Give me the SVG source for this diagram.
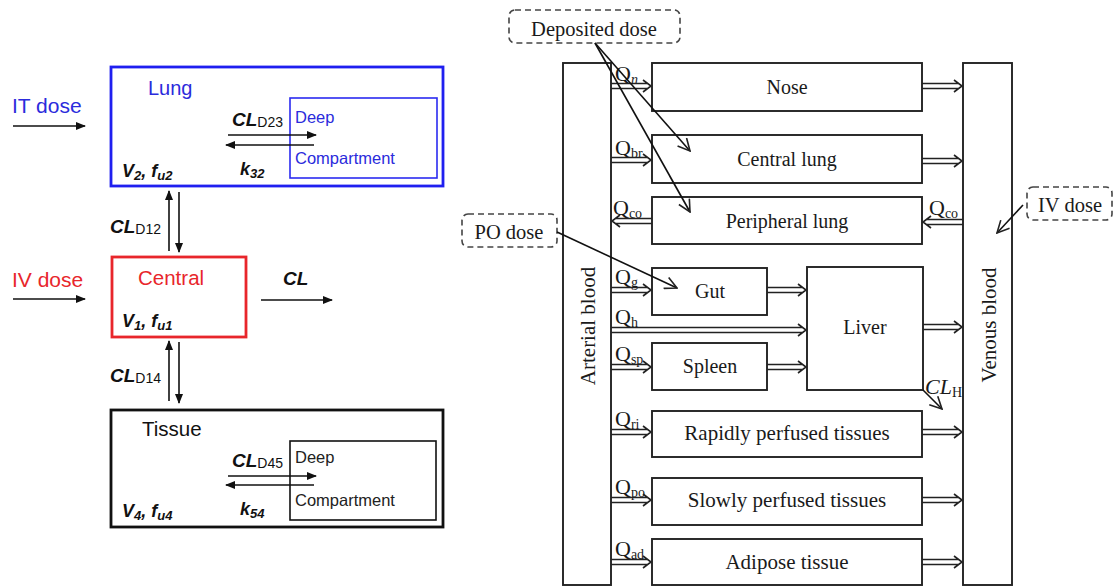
<svg xmlns="http://www.w3.org/2000/svg" width="1114" height="587" viewBox="0 0 1114 587">
<defs>
<style>
.sans{font-family:"Liberation Sans",Arial,sans-serif;}
.serif{font-family:"Liberation Serif","Times New Roman",serif;fill:#1a1a1a;}
.bi{font-weight:bold;font-style:italic;}
.blue{fill:#2b2bdc;}
.red{fill:#e8262b;}
.box{fill:#fff;stroke:#222;stroke-width:1.9;}
.dash{fill:#fff;stroke:#444;stroke-width:1.6;stroke-dasharray:6,4;}
.thin{stroke:#111;stroke-width:1.6;fill:none;}
.dbl{stroke:#222;stroke-width:1.6;fill:none;}
.lbl{font-size:20px;}
.q{font-size:22px;}
.qs{font-size:14px;}
</style>
<marker id="ah" viewBox="0 0 10 8" refX="9" refY="4" markerWidth="10" markerHeight="8" markerUnits="userSpaceOnUse" orient="auto">
<path d="M0,0 L10,4 L0,8 z" fill="#111"/>
</marker>
<marker id="open" viewBox="0 0 14 14" refX="13" refY="7" markerWidth="14" markerHeight="14" markerUnits="userSpaceOnUse" orient="auto">
<path d="M1,1 L13,7 L1,13" fill="none" stroke="#222" stroke-width="1.6"/>
</marker>
</defs>
<rect width="1114" height="587" fill="#fff"/>

<!-- LEFT: compartment model -->
<g id="it-dose">
<text class="sans blue" x="12" y="113" font-size="21">IT dose</text>
</g>
<g id="iv-dose-left">
<text class="sans red" x="12" y="287" font-size="21">IV dose</text>
</g>
<g id="lung">
<rect x="111" y="67" width="332" height="119" fill="none" stroke="#1f1ff0" stroke-width="2.8"/>
<text class="sans blue" x="148" y="95" font-size="20">Lung</text>
<text class="sans" x="122" y="177" fill="#111"><tspan class="bi" font-size="18">V</tspan><tspan class="bi" font-size="13" dy="3">2</tspan><tspan class="bi" font-size="18" dy="-3">, f</tspan><tspan class="bi" font-size="13" dy="3">u2</tspan></text>
<text class="sans" x="232" y="126" fill="#111"><tspan class="bi" font-size="19">CL</tspan><tspan font-size="14" dy="1">D23</tspan></text>
<text class="sans" x="240" y="175" fill="#111"><tspan class="bi" font-size="18">k</tspan><tspan class="bi" font-size="13" dy="3">32</tspan></text>
</g>
<g id="lung-deep">
<rect x="290" y="98" width="147" height="80" fill="none" stroke="#2b2bf0" stroke-width="1.6"/>
<text class="sans blue" x="295" y="123" font-size="16.5">Deep</text>
<text class="sans blue" x="295" y="164" font-size="16.5">Compartment</text>
</g>
<g id="central">
<rect x="112" y="257" width="134" height="80" fill="none" stroke="#e8262b" stroke-width="2.8"/>
<text class="sans red" x="138" y="285" font-size="20.5">Central</text>
<text class="sans" x="122" y="327" fill="#111"><tspan class="bi" font-size="18">V</tspan><tspan class="bi" font-size="13" dy="3">1</tspan><tspan class="bi" font-size="18" dy="-3">, f</tspan><tspan class="bi" font-size="13" dy="3">u1</tspan></text>
</g>
<g id="cl-label">
<text class="sans bi" x="283" y="285" font-size="19" fill="#111">CL</text>
</g>
<g id="tissue">
<rect x="111" y="410" width="332" height="117" fill="none" stroke="#111" stroke-width="2.8"/>
<text class="sans" x="142" y="436" font-size="20.5" fill="#111">Tissue</text>
<text class="sans" x="122" y="517" fill="#111"><tspan class="bi" font-size="18">V</tspan><tspan class="bi" font-size="13" dy="3">4</tspan><tspan class="bi" font-size="18" dy="-3">, f</tspan><tspan class="bi" font-size="13" dy="3">u4</tspan></text>
<text class="sans" x="232" y="467" fill="#111"><tspan class="bi" font-size="19">CL</tspan><tspan font-size="14" dy="1">D45</tspan></text>
<text class="sans" x="240" y="515" fill="#111"><tspan class="bi" font-size="18">k</tspan><tspan class="bi" font-size="13" dy="3">54</tspan></text>
</g>
<g id="tissue-deep">
<rect x="290" y="441" width="146" height="79" fill="none" stroke="#111" stroke-width="1.6"/>
<text class="sans" x="295" y="463" font-size="16.5" fill="#222">Deep</text>
<text class="sans" x="295" y="506" font-size="16.5" fill="#222">Compartment</text>
</g>
<g id="cld-labels">
<text class="sans" x="110" y="233" fill="#111"><tspan class="bi" font-size="19">CL</tspan><tspan font-size="14" dy="1">D12</tspan></text>
<text class="sans" x="110" y="382" fill="#111"><tspan class="bi" font-size="19">CL</tspan><tspan font-size="14" dy="1">D14</tspan></text>
</g>

<g id="left-connectors">
<line class="thin" x1="13" y1="126" x2="85" y2="126" marker-end="url(#ah)"/>
<line class="thin" x1="13" y1="299" x2="85" y2="299" marker-end="url(#ah)"/>
<line class="thin" x1="261" y1="300" x2="332" y2="300" marker-end="url(#ah)"/>
<line class="thin" x1="228" y1="135" x2="316" y2="135" marker-end="url(#ah)"/>
<line class="thin" x1="314" y1="145" x2="226" y2="145" marker-end="url(#ah)"/>
<line class="thin" x1="228" y1="476" x2="316" y2="476" marker-end="url(#ah)"/>
<line class="thin" x1="314" y1="485" x2="226" y2="485" marker-end="url(#ah)"/>
<line class="thin" x1="169" y1="251" x2="169" y2="191" marker-end="url(#ah)"/>
<line class="thin" x1="179" y1="192" x2="179" y2="252" marker-end="url(#ah)"/>
<line class="thin" x1="169" y1="401" x2="169" y2="341" marker-end="url(#ah)"/>
<line class="thin" x1="179" y1="342" x2="179" y2="403" marker-end="url(#ah)"/>
</g>

<!-- RIGHT: PBPK model -->
<g id="arterial">
<rect class="box" x="563" y="63" width="48" height="522"/>
<text class="serif" transform="translate(595,326) rotate(-90)" text-anchor="middle" font-size="21">Arterial blood</text>
</g>
<g id="venous">
<rect class="box" x="963" y="63" width="49" height="522"/>
<text class="serif" transform="translate(996,325) rotate(-90)" text-anchor="middle" font-size="21">Venous blood</text>
</g>
<g id="nose"><rect class="box" x="652" y="63" width="270" height="48"/><text class="serif lbl" x="787" y="94" text-anchor="middle">Nose</text></g>
<g id="central-lung"><rect class="box" x="652" y="135" width="270" height="48"/><text class="serif lbl" x="787" y="166" text-anchor="middle">Central lung</text></g>
<g id="peripheral-lung"><rect class="box" x="652" y="197" width="270" height="47"/><text class="serif lbl" x="787" y="228" text-anchor="middle">Peripheral lung</text></g>
<g id="gut"><rect class="box" x="652" y="268" width="115" height="47"/><text class="serif lbl" x="710" y="298" text-anchor="middle">Gut</text></g>
<g id="spleen"><rect class="box" x="652" y="343" width="115" height="47"/><text class="serif lbl" x="710" y="373" text-anchor="middle">Spleen</text></g>
<g id="liver"><rect class="box" x="807" y="267" width="116" height="123"/><text class="serif lbl" x="865" y="334" text-anchor="middle">Liver</text></g>
<g id="rapid"><rect class="box" x="652" y="411" width="270" height="46"/><text class="serif" x="787" y="440" text-anchor="middle" font-size="21">Rapidly perfused tissues</text></g>
<g id="slow"><rect class="box" x="652" y="478" width="270" height="47"/><text class="serif" x="787" y="507" text-anchor="middle" font-size="21">Slowly perfused tissues</text></g>
<g id="adipose"><rect class="box" x="652" y="539" width="270" height="46"/><text class="serif" x="787" y="569" text-anchor="middle" font-size="21">Adipose tissue</text></g>

<g id="deposited-dose"><rect class="dash" x="509" y="10" width="171" height="33" rx="6"/><text class="serif" x="594" y="36" text-anchor="middle" font-size="20.5">Deposited dose</text></g>
<g id="po-dose"><rect class="dash" x="462" y="214" width="95" height="33" rx="6"/><text class="serif" x="509" y="239" text-anchor="middle" font-size="20.5">PO dose</text></g>
<g id="iv-dose-right"><rect class="dash" x="1027" y="187" width="85" height="33" rx="6"/><text class="serif" x="1070" y="212" text-anchor="middle" font-size="20.5">IV dose</text></g>

<g id="flow-labels" class="serif">
<text x="615" y="81"><tspan class="q">Q</tspan><tspan class="qs" font-style="italic" dy="3">n</tspan></text>
<text x="615" y="155"><tspan class="q">Q</tspan><tspan class="qs" dy="3">br</tspan></text>
<text x="613" y="215"><tspan class="q">Q</tspan><tspan class="qs" dy="3">co</tspan></text>
<text x="929" y="215"><tspan class="q">Q</tspan><tspan class="qs" dy="3">co</tspan></text>
<text x="615" y="284"><tspan class="q">Q</tspan><tspan class="qs" dy="3">g</tspan></text>
<text x="615" y="324"><tspan class="q">Q</tspan><tspan class="qs" dy="3">h</tspan></text>
<text x="615" y="361"><tspan class="q">Q</tspan><tspan class="qs" dy="3">sp</tspan></text>
<text x="615" y="426"><tspan class="q">Q</tspan><tspan class="qs" dy="3">ri</tspan></text>
<text x="615" y="494"><tspan class="q">Q</tspan><tspan class="qs" dy="3">po</tspan></text>
<text x="615" y="556"><tspan class="q">Q</tspan><tspan class="qs" dy="3">ad</tspan></text>
<text x="925" y="394"><tspan class="q" font-style="italic">CL</tspan><tspan class="qs" dy="3">H</tspan></text>
</g>

<g id="right-connectors">
<path class="dbl" d="M611,83.5H647M611,88.5H647M643,80L651,86L643,92"/>
<path class="dbl" d="M611,157.5H647M611,162.5H647M643,154L651,160L643,166"/>
<path class="dbl" d="M611,287.5H647M611,292.5H647M643,284L651,290L643,296"/>
<path class="dbl" d="M611,327.5H802M611,332.5H802M798,324L806,330L798,336"/>
<path class="dbl" d="M611,364.5H647M611,369.5H647M643,361L651,367L643,373"/>
<path class="dbl" d="M611,429.5H647M611,434.5H647M643,426L651,432L643,438"/>
<path class="dbl" d="M611,497.5H647M611,502.5H647M643,494L651,500L643,506"/>
<path class="dbl" d="M611,559.5H647M611,564.5H647M643,556L651,562L643,568"/>
<path class="dbl" d="M922,83.5H958M922,88.5H958M954,80L962,86L954,92"/>
<path class="dbl" d="M922,158.5H958M922,163.5H958M954,155L962,161L954,167"/>
<path class="dbl" d="M767,287.5H802M767,292.5H802M798,284L806,290L798,296"/>
<path class="dbl" d="M767,364.5H802M767,369.5H802M798,361L806,367L798,373"/>
<path class="dbl" d="M923,324.5H958M923,329.5H958M954,321L962,327L954,333"/>
<path class="dbl" d="M922,429.5H958M922,434.5H958M954,426L962,432L954,438"/>
<path class="dbl" d="M922,497.5H958M922,502.5H958M954,494L962,500L954,506"/>
<path class="dbl" d="M922,559.5H958M922,564.5H958M954,556L962,562L954,568"/>
<path class="dbl" d="M652,218.5H616M652,223.5H616M620,215L612,221L620,227"/>
<path class="dbl" d="M963,219.5H927M963,224.5H927M931,216L923,222L931,228"/>
<line class="thin" x1="595" y1="43" x2="690" y2="151" marker-end="url(#open)"/>
<line class="thin" x1="595" y1="43" x2="690" y2="212" marker-end="url(#open)"/>
<line class="thin" x1="557" y1="232" x2="677" y2="288" marker-end="url(#open)"/>
<line class="thin" x1="1023" y1="205" x2="997" y2="233" marker-end="url(#open)"/>
<line class="thin" x1="923" y1="390" x2="942" y2="409" marker-end="url(#open)"/>
</g>
</svg>
